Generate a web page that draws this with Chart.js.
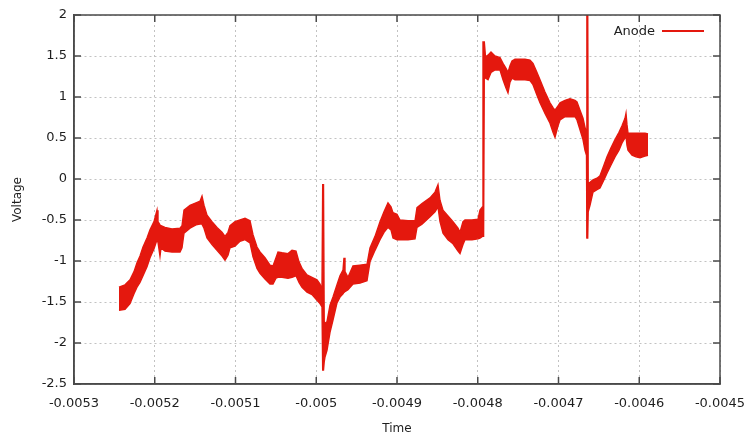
<!DOCTYPE html>
<html>
<head>
<meta charset="utf-8">
<script src="https://cdn.jsdelivr.net/npm/chart.js@4.4.1/dist/chart.umd.min.js"></script>
<style>
  html, body { margin: 0; padding: 0; background: #ffffff; }
  canvas { display: block; }
</style>
</head>
<body>
<canvas id="plot" width="746" height="435"></canvas>
<script>
// Anode voltage record. The trace is a dense, noisy band, so each sample time
// carries the upper and lower edge of that band (time in s, voltage in V).
const sampleTimes = [
  -0.00524427, -0.00523684, -0.00523065, -0.00522570, -0.00522198, -0.00521827, -0.00521455, -0.00520960, -0.00520588, -0.00520093,
  -0.00519721, -0.00519598, -0.00519350, -0.00519226, -0.00518731, -0.00517864, -0.00516873, -0.00516625, -0.00516378, -0.00515635,
  -0.00514892, -0.00514396, -0.00514149, -0.00513901, -0.00513529, -0.00512910, -0.00512291, -0.00511672, -0.00511300, -0.00510929,
  -0.00510681, -0.00510062, -0.00509443, -0.00508824, -0.00508204, -0.00507833, -0.00507337, -0.00506966, -0.00506347, -0.00505728,
  -0.00505356, -0.00504985, -0.00504737, -0.00504241, -0.00503498, -0.00503003, -0.00502508, -0.00502136, -0.00501765, -0.00501146,
  -0.00500526, -0.00499907, -0.00499536, -0.00499288, -0.00499201, -0.00499102, -0.00499015, -0.00498916, -0.00498669, -0.00498297,
  -0.00497926, -0.00497430, -0.00497059, -0.00496687, -0.00496563, -0.00496440, -0.00496068, -0.00495449, -0.00494582, -0.00493715,
  -0.00493344, -0.00492724, -0.00492105, -0.00491610, -0.00491115, -0.00490743, -0.00490495, -0.00490000, -0.00489628, -0.00488638,
  -0.00487771, -0.00487523, -0.00486904, -0.00485913, -0.00485294, -0.00484923, -0.00484675, -0.00484303, -0.00483684, -0.00483065,
  -0.00482446, -0.00482198, -0.00481827, -0.00481579, -0.00480712, -0.00479969, -0.00479721, -0.00479424, -0.00479350, -0.00479275,
  -0.00479189, -0.00479040, -0.00478731, -0.00478359, -0.00477864, -0.00477245, -0.00476873, -0.00476502, -0.00476254, -0.00476006,
  -0.00475759, -0.00475387, -0.00474768, -0.00474149, -0.00473529, -0.00473158, -0.00472663, -0.00472291, -0.00471672, -0.00471053,
  -0.00470681, -0.00470433, -0.00470062, -0.00469814, -0.00469195, -0.00468576, -0.00467957, -0.00467709, -0.00467337, -0.00466966,
  -0.00466718, -0.00466532, -0.00466483, -0.00466384, -0.00466322, -0.00466099, -0.00465728, -0.00465232, -0.00464861, -0.00464365,
  -0.00463994, -0.00463498, -0.00463003, -0.00462508, -0.00462136, -0.00461765, -0.00461641, -0.00461517, -0.00461393, -0.00460898,
  -0.00460402, -0.00459907, -0.00459288, -0.00458916
];

const anodeUpper = [
  -1.32, -1.29, -1.23, -1.13, -1.02, -0.94, -0.83, -0.72, -0.62, -0.52,
  -0.38, -0.52, -0.56, -0.57, -0.59, -0.61, -0.60, -0.57, -0.38, -0.32,
  -0.29, -0.27, -0.21, -0.32, -0.44, -0.52, -0.59, -0.65, -0.70, -0.65,
  -0.57, -0.52, -0.50, -0.48, -0.51, -0.68, -0.83, -0.89, -0.96, -1.05,
  -1.06, -0.96, -0.89, -0.90, -0.91, -0.87, -0.88, -1.01, -1.09, -1.17,
  -1.20, -1.23, -1.28, -1.35, -0.07, -0.07, -1.74, -1.76, -1.74, -1.54,
  -1.44, -1.29, -1.18, -1.11, -0.96, -1.13, -1.20, -1.06, -1.05, -1.04,
  -0.84, -0.70, -0.52, -0.40, -0.29, -0.34, -0.41, -0.43, -0.50, -0.51,
  -0.51, -0.35, -0.30, -0.23, -0.16, -0.07, -0.26, -0.38, -0.45, -0.52,
  -0.60, -0.65, -0.52, -0.50, -0.50, -0.49, -0.38, -0.34, 1.67, 1.67,
  1.67, 1.49, 1.51, 1.55, 1.50, 1.48, 1.41, 1.35, 1.30, 1.38,
  1.44, 1.46, 1.46, 1.46, 1.45, 1.41, 1.30, 1.21, 1.06, 0.93,
  0.87, 0.84, 0.89, 0.93, 0.96, 0.98, 0.96, 0.94, 0.84, 0.74,
  0.63, 0.57, 2.20, 2.20, -0.05, -0.04, -0.01, 0.01, 0.04, 0.17,
  0.27, 0.38, 0.48, 0.57, 0.65, 0.74, 0.80, 0.66, 0.56, 0.56,
  0.56, 0.56, 0.56, 0.55
];

const anodeLower = [
  -1.60, -1.59, -1.52, -1.40, -1.32, -1.26, -1.18, -1.07, -0.96, -0.85,
  -0.74, -0.77, -0.94, -0.84, -0.88, -0.89, -0.89, -0.84, -0.66, -0.60,
  -0.56, -0.55, -0.55, -0.60, -0.72, -0.80, -0.87, -0.94, -0.99, -0.93,
  -0.84, -0.82, -0.76, -0.74, -0.78, -0.95, -1.09, -1.15, -1.22, -1.28,
  -1.28, -1.21, -1.20, -1.20, -1.21, -1.20, -1.18, -1.26, -1.32, -1.38,
  -1.41, -1.48, -1.52, -1.56, -2.33, -2.33, -2.23, -2.17, -2.09, -1.87,
  -1.72, -1.51, -1.44, -1.40, -1.38, -1.38, -1.35, -1.28, -1.27, -1.24,
  -1.01, -0.87, -0.74, -0.65, -0.59, -0.62, -0.72, -0.74, -0.74, -0.74,
  -0.73, -0.59, -0.55, -0.46, -0.40, -0.34, -0.52, -0.66, -0.74, -0.79,
  -0.88, -0.91, -0.80, -0.74, -0.74, -0.73, -0.72, -0.70, -0.70, -0.70,
  1.33, 1.23, 1.21, 1.30, 1.33, 1.33, 1.21, 1.11, 1.05, 1.18,
  1.23, 1.21, 1.21, 1.21, 1.20, 1.15, 1.02, 0.93, 0.80, 0.68,
  0.57, 0.51, 0.65, 0.72, 0.76, 0.76, 0.76, 0.72, 0.60, 0.48,
  0.35, 0.29, -0.72, -0.72, -0.40, -0.32, -0.16, -0.13, -0.11, -0.01,
  0.07, 0.17, 0.27, 0.35, 0.44, 0.50, 0.52, 0.41, 0.35, 0.29,
  0.27, 0.26, 0.28, 0.29
];

const timeTickLabels = ['-0.0053', '-0.0052', '-0.0051', '-0.005', '-0.0049', '-0.0048', '-0.0047', '-0.0046', '-0.0045'];
const voltageTickLabels = ['-2.5', '-2', '-1.5', '-1', '-0.5', '0', '0.5', '1', '1.5', '2'];

const TRACE_RED = 'rgb(228, 24, 14)';
const FRAME = '#4a4a4a';
const INK = '#1e1e1e';
const GRID = '#c2c2c2';
const FONT = "'DejaVu Sans', Verdana, sans-serif";

Chart.defaults.font.family = FONT;
Chart.defaults.color = INK;

// Closed frame with inward tick marks on all four sides, plus the key.
const frameAndKey = {
  id: 'frameAndKey',
  afterDraw(chart) {
    const { ctx, chartArea: a, scales: { x, y } } = chart;
    const len = 7;
    ctx.save();
    ctx.strokeStyle = FRAME;
    ctx.lineWidth = 1.5;
    ctx.strokeRect(a.left, a.top, a.right - a.left, a.bottom - a.top);
    ctx.beginPath();
    x.ticks.forEach(t => {
      const px = x.getPixelForValue(t.value);
      ctx.moveTo(px, a.bottom); ctx.lineTo(px, a.bottom - len);
      ctx.moveTo(px, a.top); ctx.lineTo(px, a.top + len);
    });
    y.ticks.forEach(t => {
      const py = y.getPixelForValue(t.value);
      ctx.moveTo(a.left, py); ctx.lineTo(a.left + len, py);
      ctx.moveTo(a.right, py); ctx.lineTo(a.right - len, py);
    });
    ctx.stroke();

    // key: label text, then a line sample to its right
    const label = chart.data.datasets[0].label;
    const keyY = a.top + 16;
    const sampleEnd = a.right - 16;
    const sampleStart = sampleEnd - 42;
    ctx.font = '13px ' + FONT;
    ctx.fillStyle = INK;
    ctx.textAlign = 'right';
    ctx.textBaseline = 'middle';
    ctx.fillText(label, sampleStart - 7, keyY + 1);
    ctx.strokeStyle = TRACE_RED;
    ctx.lineWidth = 2;
    ctx.beginPath();
    ctx.moveTo(sampleStart, keyY);
    ctx.lineTo(sampleEnd, keyY);
    ctx.stroke();
    ctx.restore();
  }
};

const upperPoints = sampleTimes.map((t, i) => ({ x: t, y: anodeUpper[i] }));
const lowerPoints = sampleTimes.map((t, i) => ({ x: t, y: anodeLower[i] }));

new Chart(document.getElementById('plot'), {
  type: 'line',
  data: {
    datasets: [
      {
        label: 'Anode',
        data: upperPoints,
        borderColor: TRACE_RED,
        backgroundColor: TRACE_RED,
        borderWidth: 1.4,
        pointRadius: 0,
        tension: 0,
        fill: '+1'
      },
      {
        label: 'Anode (lower edge)',
        data: lowerPoints,
        borderColor: TRACE_RED,
        backgroundColor: TRACE_RED,
        borderWidth: 1.4,
        pointRadius: 0,
        tension: 0,
        fill: false
      }
    ]
  },
  options: {
    responsive: false,
    animation: false,
    devicePixelRatio: 1,
    events: [],
    layout: { padding: { left: 0, right: 26, top: 15, bottom: 0 } },
    plugins: {
      legend: { display: false },
      tooltip: { enabled: false }
    },
    scales: {
      x: {
        type: 'linear',
        min: -0.0053,
        max: -0.0045,
        afterFit: s => { s.height = 51; },
        ticks: {
          stepSize: 0.0001,
          autoSkip: false,
          maxRotation: 0,
          padding: 0,
          font: { size: 13 },
          color: INK,
          callback: (v, i) => timeTickLabels[i]
        },
        // outward tick marks are hidden; their length only spaces the labels
        grid: { color: GRID, lineWidth: 1, drawTicks: true, tickLength: 12, tickColor: 'rgba(0,0,0,0)' },
        border: { display: true, color: FRAME, width: 1.5, dash: [2, 3] },
        title: { display: true, text: 'Time', font: { size: 12, lineHeight: 1 }, color: INK, padding: { top: 0, bottom: 0 } }
      },
      y: {
        type: 'linear',
        min: -2.5,
        max: 2,
        afterFit: s => { s.width = 74; },
        ticks: {
          stepSize: 0.5,
          autoSkip: false,
          padding: 0,
          font: { size: 13 },
          color: INK,
          callback: (v, i) => voltageTickLabels[i]
        },
        grid: { color: GRID, lineWidth: 1, drawTicks: true, tickLength: 7, tickColor: 'rgba(0,0,0,0)' },
        border: { display: true, color: FRAME, width: 1.5, dash: [2, 3] },
        title: { display: true, text: 'Voltage', font: { size: 12, lineHeight: 1 }, color: INK, padding: { top: 12, bottom: 0 } }
      }
    }
  },
  plugins: [frameAndKey]
});
</script>
</body>
</html>
